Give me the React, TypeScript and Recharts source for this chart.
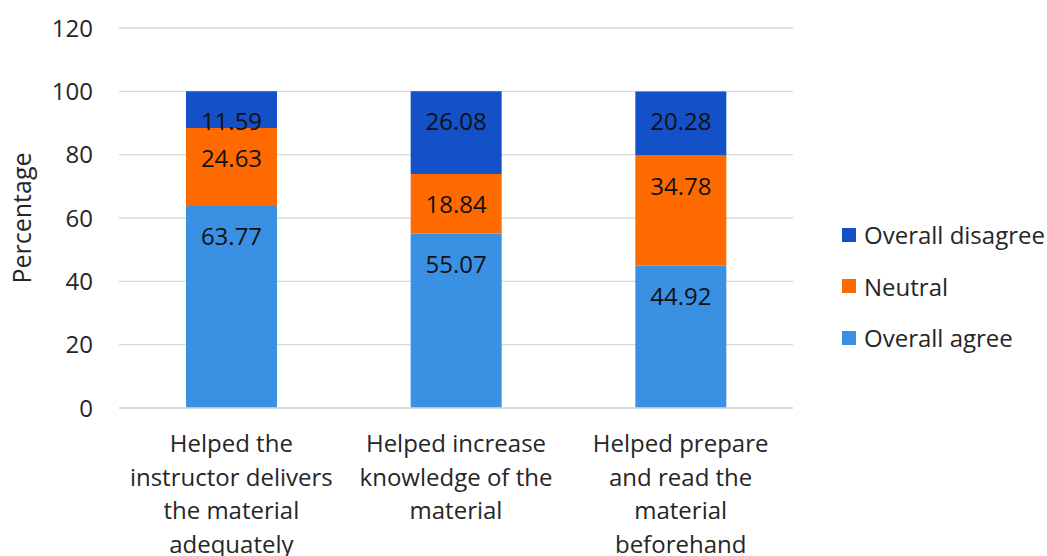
import React from 'react';
import {
  BarChart,
  Bar,
  XAxis,
  YAxis,
  CartesianGrid,
  Legend,
  LabelList,
} from 'recharts';

const categories = [
  'Helped the\ninstructor delivers\nthe material\nadequately',
  'Helped increase\nknowledge of the\nmaterial',
  'Helped prepare\nand read the\nmaterial\nbeforehand',
];
const overallAgree = [63.77, 55.07, 44.92];
const neutral = [24.63, 18.84, 34.78];
const overallDisagree = [11.59, 26.08, 20.28];
const yTicks = [0, 20, 40, 60, 80, 100, 120];

const FONT = '"Open Sans", sans-serif';
const TEXT = '#262626';
const GRID = '#d9d9d9';
const FS = 24;

const series = [
  { key: 'disagree', name: 'Overall disagree', color: '#1450c8' },
  { key: 'neutral', name: 'Neutral', color: '#ff6a00' },
  { key: 'agree', name: 'Overall agree', color: '#3a91e4' },
];

const data = categories.map((c, i) => ({
  category: c,
  agree: overallAgree[i],
  neutral: neutral[i],
  disagree: overallDisagree[i],
}));

// Multi-line category label under each stack
const CategoryTick = (props: any) => {
  const { x, y, payload } = props;
  const lines = String(payload.value).split('\n');
  return (
    <text
      x={x}
      y={y + 41}
      textAnchor="middle"
      fill={TEXT}
      fontFamily={FONT}
      fontSize={FS}
    >
      {lines.map((l, i) => (
        <tspan key={i} x={x} dy={i === 0 ? 0 : 33.5}>
          {l}
        </tspan>
      ))}
    </text>
  );
};

// Value label pinned near the top edge of each segment
const SegmentLabel = (props: any) => {
  const { x, y, width, value } = props;
  return (
    <text
      x={x + width / 2}
      y={y + 39}
      textAnchor="middle"
      fill="#111"
      fontFamily={FONT}
      fontSize={FS}
    >
      {Number(value).toFixed(2)}
    </text>
  );
};

const LegendContent = () => (
  <div style={{ fontFamily: FONT, fontSize: FS, color: TEXT }}>
    {series.map((s) => (
      <div
        key={s.key}
        style={{ display: 'flex', alignItems: 'center', height: 51.5 }}
      >
        <span
          style={{
            width: 14,
            height: 14,
            background: s.color,
            display: 'inline-block',
            marginRight: 8,
          }}
        />
        <span style={{ whiteSpace: 'nowrap' }}>{s.name}</span>
      </div>
    ))}
  </div>
);

const YLabel = () => (
  <text
    x={0}
    y={0}
    transform="translate(31, 218) rotate(-90)"
    textAnchor="middle"
    fill={TEXT}
    fontFamily={FONT}
    fontSize={25}
  >
    Percentage
  </text>
);

export default function App() {
  return (
    <div style={{ position: 'absolute', left: 0, top: 0, background: '#fff' }}>
      <BarChart
        width={1047}
        height={556}
        data={data}
        margin={{ top: 28, right: 50, bottom: 0, left: 0 }}
      >
        <CartesianGrid
          xAxisId="b"
          vertical={false}
          stroke={GRID}
          strokeWidth={1.3}
        />
        <XAxis
          xAxisId="a"
          type="number"
          domain={[0, 3]}
          ticks={[0, 1, 2, 3]}
          allowDataOverflow
          height={1}
          tick={false}
          tickSize={8}
          axisLine={{ stroke: GRID, strokeWidth: 1.3 }}
          tickLine={{ stroke: GRID, strokeWidth: 1.3 }}
        />
        <XAxis
          xAxisId="b"
          dataKey="category"
          height={147}
          axisLine={false}
          tickLine={false}
          tickSize={0}
          interval={0}
          tick={<CategoryTick />}
        />
        <YAxis
          width={119}
          domain={[0, 120]}
          ticks={yTicks}
          axisLine={false}
          tickLine={false}
          tickSize={0}
          tickMargin={26}
          tick={{ fill: TEXT, fontFamily: FONT, fontSize: FS }}
          label={<YLabel />}
        />
        <Legend
          verticalAlign="middle"
          align="right"
          layout="vertical"
          content={<LegendContent />}
          wrapperStyle={{ left: 842, top: 209, width: 204 }}
        />
        {[...series].reverse().map((s) => (
          <Bar
            key={s.key}
            xAxisId="b"
            dataKey={s.key}
            name={s.name}
            stackId="a"
            fill={s.color}
            barSize={91}
            isAnimationActive={false}
          >
            <LabelList dataKey={s.key} content={<SegmentLabel />} />
          </Bar>
        ))}
      </BarChart>
    </div>
  );
}
